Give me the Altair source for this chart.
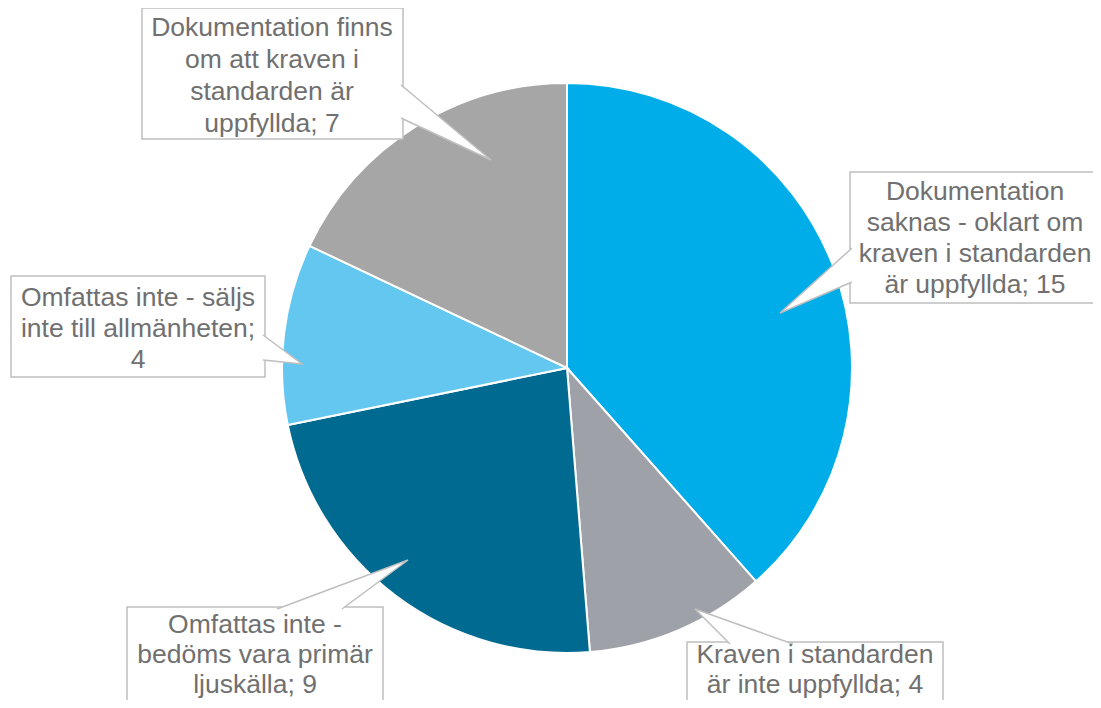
import altair as alt
import pandas as pd

# ---- data ----
categories = [
    "Dokumentation saknas - oklart om kraven i standarden är uppfyllda",
    "Kraven i standarden är inte uppfyllda",
    "Omfattas inte - bedöms vara primär ljuskälla",
    "Omfattas inte - säljs inte till allmänheten",
    "Dokumentation finns om att kraven i standarden är uppfyllda",
]
values = [15, 4, 9, 4, 7]
label_lines = [
    ["Dokumentation", "saknas - oklart om", "kraven i standarden", "är uppfyllda; 15"],
    ["Kraven i standarden", "är inte uppfyllda; 4"],
    ["Omfattas inte -", "bedöms vara primär", "ljuskälla; 9"],
    ["Omfattas inte - säljs", "inte till allmänheten;", "4"],
    ["Dokumentation finns", "om att kraven i", "standarden är", "uppfyllda; 7"],
]
colors = ["#00ADE8", "#9EA2A8", "#006A91", "#63C7EF", "#A6A6A6"]

# ---- layout (page pixels) ----
box_x1 = [850, 687, 127, 11, 142]
box_x2 = [1110, 943, 383, 265, 403]
box_y1 = [172, 642, 607, 276, 8]
box_y2 = [303, 720, 720, 377, 139]
text_x = [975, 815, 255, 138, 272]
text_y = [192, 655, 625, 298, 28]   # first-line centre
line_h = [31, 30, 30, 31, 32]
tail_pts = [
    [(852, 248), (780, 313), (852, 282)],
    [(730, 644), (695, 609), (793, 644)],
    [(277, 609), (408, 560), (342, 609)],
    [(263, 335), (302, 364), (263, 360)],
    [(401, 85), (491, 160), (401, 118)],
]

W, H = 1085, 692
xs = alt.Scale(domain=[8, 8 + W], range=[0, W])
ys = alt.Scale(domain=[8, 8 + H], range=[0, H])

pie_df = pd.DataFrame({"cat": categories, "value": values, "idx": list(range(5))})
pie = alt.Chart(pie_df).mark_arc(outerRadius=285, stroke="white", strokeWidth=2).encode(
    theta=alt.Theta("value:Q", stack=True),
    order=alt.Order("idx:Q"),
    color=alt.Color("cat:N", scale=alt.Scale(domain=categories, range=colors), legend=None),
    x=alt.value(567 - 8),
    y=alt.value(368 - 8),
)

box_df = pd.DataFrame({"x1": box_x1, "x2": box_x2, "y1": box_y1, "y2": box_y2})
boxes = alt.Chart(box_df).mark_rect(fill="white", stroke="#BFBFBF", strokeWidth=1.5).encode(
    x=alt.X("x1:Q", scale=xs, axis=None),
    x2="x2:Q",
    y=alt.Y("y1:Q", scale=ys, axis=None),
    y2="y2:Q",
)

rows = []
for i, pts in enumerate(tail_pts):
    for j, (px, py) in enumerate(pts):
        rows.append({"id": i, "ord": j, "x": px, "y": py})
tail_df = pd.DataFrame(rows)
tails = alt.Chart(tail_df).mark_line(fill="white", stroke="#BFBFBF", strokeWidth=1.5).encode(
    x=alt.X("x:Q", scale=xs, axis=None),
    y=alt.Y("y:Q", scale=ys, axis=None),
    detail="id:N",
    order="ord:Q",
)

trows = []
for i, lines in enumerate(label_lines):
    for k, ln in enumerate(lines):
        trows.append({"label": ln, "x": text_x[i], "y": text_y[i] + k * line_h[i]})
txt_df = pd.DataFrame(trows)
texts = alt.Chart(txt_df).mark_text(
    font="Liberation Sans", fontSize=26.5, color="#707070", align="center",
    baseline="middle",
).encode(
    x=alt.X("x:Q", scale=xs, axis=None),
    y=alt.Y("y:Q", scale=ys, axis=None),
    text="label:N",
)

chart = alt.layer(pie, boxes, tails, texts).properties(
    width=W, height=H, padding=0, autosize="none"
).configure_view(stroke=None)

chart.save("out.html", embed_options={"renderer": "svg", "actions": False})
